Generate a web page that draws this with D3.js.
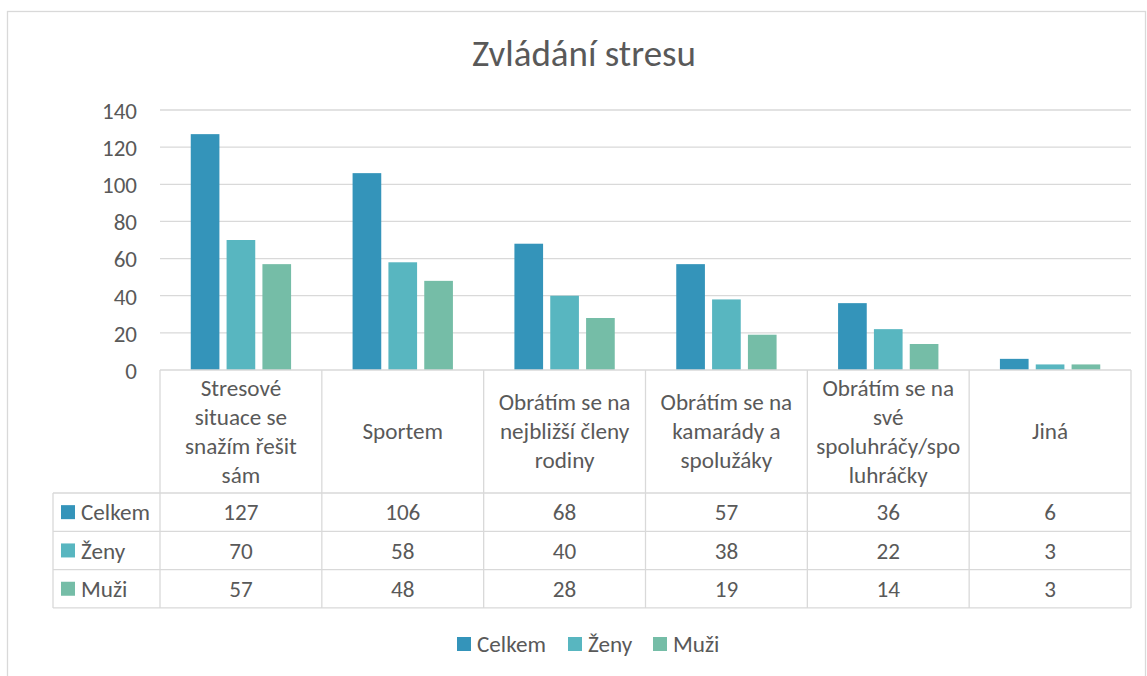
<!DOCTYPE html>
<html><head><meta charset="utf-8">
<script src="https://cdn.jsdelivr.net/npm/d3@7"></script>
<style>
html,body{margin:0;padding:0;background:#fff;}
svg{display:block;font-family:Carlito, Lato, "Liberation Sans", sans-serif;}
</style></head>
<body>
<svg id="chart" width="1147" height="676"></svg>
<script>
const title = "Zvládání stresu";
const categories = [
  ["Stresové","situace se","snažím řešit","sám"],
  ["Sportem"],
  ["Obrátím se na","nejbližší členy","rodiny"],
  ["Obrátím se na","kamarády a","spolužáky"],
  ["Obrátím se na","své","spoluhráčy/spo","luhráčky"],
  ["Jiná"]
];
const seriesNames = ["Celkem","Ženy","Muži"];
const celkem = [127,106,68,57,36,6];
const zeny = [70,58,40,38,22,3];
const muzi = [57,48,28,19,14,3];
const yTicks = [0,20,40,60,80,100,120,140];
const colors = ["#3494BA","#58B6C0","#75BDA7"];

(function(){
const seriesValues = [celkem, zeny, muzi];
const svg = d3.select("#chart");
const textColor = "#595959", lineColor = "#D9D9D9";

// font size fitting: find size so that sample text has target width
function fitSize(sample, targetW){
  const t = svg.append("text").attr("font-size",20).text(sample);
  const w = t.node().getComputedTextLength();
  t.remove();
  return 20*targetW/w;
}
const fsTitle = Math.min(40, fitSize(title, 224));
const fsText = Math.min(24, fitSize("Celkem", 69));
const fsTick = Math.min(24, fitSize("140", 35));

svg.append("rect").attr("x",7.5).attr("y",11.5).attr("width",1138).attr("height",700)
  .attr("fill","none").attr("stroke",lineColor).attr("stroke-width",1.3);

svg.append("text").attr("x",584).attr("y",66).attr("text-anchor","middle")
  .attr("font-size",fsTitle).attr("fill",textColor).text(title);

const pLeft = 160, pRight = 1131, pTop = 110, base = 370;
const x0 = d3.scaleBand().domain(d3.range(categories.length)).range([pLeft,pRight]).padding(0);
const cw = x0.bandwidth();
const x1 = d3.scaleBand().domain(seriesNames).range([cw*0.19, cw*0.81]).paddingInner(0.2).paddingOuter(0);
const y = d3.scaleLinear().domain([0,140]).range([base, pTop]);

svg.append("g").selectAll("line").data(yTicks.filter(d=>d>0)).join("line")
  .attr("x1",pLeft).attr("x2",pRight).attr("y1",d=>y(d)).attr("y2",d=>y(d))
  .attr("stroke",lineColor).attr("stroke-width",1.3);

const yAxis = d3.axisLeft(y).tickValues(yTicks).tickSize(0).tickPadding(0);
const yg = svg.append("g").attr("transform",`translate(${137},0)`).call(yAxis);
yg.select(".domain").remove();
yg.selectAll("text").attr("font-size",fsTick).attr("fill",textColor)
  .attr("font-family","Carlito, Lato, sans-serif").attr("dy",null).attr("y",fsTick*0.36);

seriesNames.forEach((s,si)=>{
  svg.append("g").selectAll("rect").data(seriesValues[si]).join("rect")
    .attr("x",(d,i)=>x0(i)+x1(s)).attr("width",x1.bandwidth())
    .attr("y",d=>y(d)).attr("height",d=>base-y(d)).attr("fill",colors[si]);
});

const headerBottom = 493, rowH = 38.3, tblLeft = 53;
const rowsBottom = headerBottom + rowH*3;
const tg = svg.append("g").attr("stroke",lineColor).attr("stroke-width",1.3);
tg.append("line").attr("x1",pLeft).attr("x2",pRight).attr("y1",base).attr("y2",base);
d3.range(categories.length+1).forEach(i=>{
  const xx = i<categories.length ? x0(i) : pRight;
  tg.append("line").attr("x1",xx).attr("x2",xx).attr("y1",base).attr("y2",rowsBottom);
});
tg.append("line").attr("x1",tblLeft).attr("x2",tblLeft).attr("y1",headerBottom).attr("y2",rowsBottom);
d3.range(4).forEach(r=>{
  const yy = headerBottom + r*rowH;
  tg.append("line").attr("x1",tblLeft).attr("x2",pRight).attr("y1",yy).attr("y2",yy);
});

const lh = 29;
categories.forEach((lines,i)=>{
  const cx = x0(i)+cw/2, cy = (base+headerBottom)/2;
  const t = svg.append("text").attr("text-anchor","middle").attr("font-size",fsText).attr("fill",textColor);
  lines.forEach((l,k)=>{
    t.append("tspan").attr("x",cx).attr("y",cy + (k-(lines.length-1)/2)*lh + 7.5).text(l);
  });
});

seriesNames.forEach((s,si)=>{
  const cy = headerBottom + rowH*si + rowH/2;
  svg.append("rect").attr("x",61).attr("y",cy-7).attr("width",14).attr("height",14).attr("fill",colors[si]);
  svg.append("text").attr("x",81).attr("y",cy+fsText*0.36).attr("font-size",fsText).attr("fill",textColor).text(s);
  svg.append("g").selectAll("text").data(seriesValues[si]).join("text")
    .attr("x",(d,i)=>x0(i)+cw/2).attr("y",cy+fsText*0.36).attr("text-anchor","middle")
    .attr("font-size",fsText).attr("fill",textColor).text(d=>d);
});

const legX = [457,568,653];
seriesNames.forEach((s,si)=>{
  svg.append("rect").attr("x",legX[si]).attr("y",637).attr("width",14).attr("height",14).attr("fill",colors[si]);
  svg.append("text").attr("x",legX[si]+20).attr("y",644+fsText*0.36).attr("font-size",fsText).attr("fill",textColor).text(s);
});
})();
</script>
</body></html>
